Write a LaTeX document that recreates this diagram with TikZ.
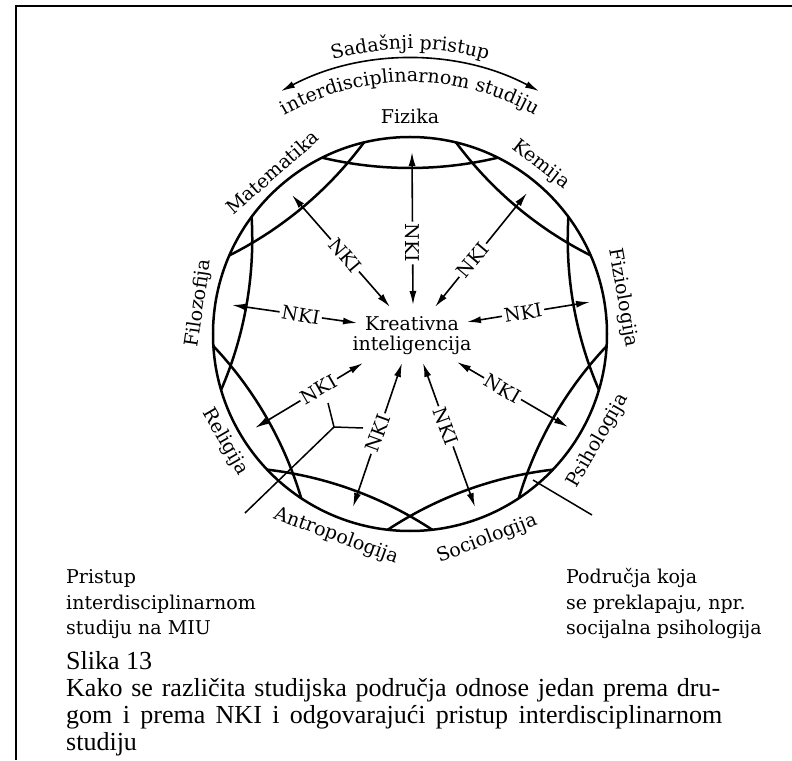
\documentclass[tikz,border=0pt]{standalone}
\usepackage{fontspec}
\setmainfont{DejaVu Serif}
\newfontfamily\capfamily{Liberation Serif}
\usetikzlibrary{arrows.meta,decorations.text,calc}
\newcommand\dlabfont{\fontsize{19}{22}\selectfont}
\newcommand\capfont{\capfamily\fontsize{26}{26}\selectfont}
\begin{document}
\begin{tikzpicture}[x=1pt,y=1pt,
  lens/.style={line width=2.5pt},
  nkiarrow/.style={line width=1.6pt,-{Latex[length=14pt,width=7pt]}},
  nki/.style={font=\dlabfont,inner sep=2pt},
  flab/.style={font=\dlabfont,inner sep=0pt},
  callout/.style={line width=1.5pt},
  anno/.style={font=\dlabfont,anchor=base west,inner sep=0pt},
  captxt/.style={font=\capfont,anchor=base west,inner sep=0pt},
  frame/.style={line width=2pt}]
\useasboundingbox (-410,-426) rectangle (382,334);
% frame
\draw[frame] (-394,-426) -- (-394,328) -- (382,328);
% outer circle and inner lens arcs
\draw[lens] (0,0) circle[radius=197];
\foreach \t in {90,130,...,410}{
  \pgfmathsetmacro\sa{\t+166.63}
  \pgfmathsetmacro\ea{\t+193.37}
  \draw[lens] (\t:546) ++(\sa:380) arc[start angle=\sa,end angle=\ea,radius=380];
}
% top arc with arrows
\draw[line width=1.6pt,{Latex[length=14pt,width=7pt]}-{Latex[length=14pt,width=7pt]}] (118:275) arc[start angle=118,end angle=62,radius=275];
\path[decorate,decoration={text along path,text={|\dlabfont|Sadašnji pristup},text align=center}] (120:285) arc[start angle=120,end angle=60,radius=285];
\path[decorate,decoration={text along path,text={|\dlabfont|interdisciplinarnom studiju},text align=center}] (125:252) arc[start angle=125,end angle=55,radius=252];
% field labels
\node[flab] (fiz) at (0,218) {Fizika};
\node[flab,rotate=-38] (kem) at (131,169) {Kemija};
\node[flab,rotate=-80] (fzl) at (213,36) {Fiziologija};
\node[flab,rotate=60] (psi) at (188,-107) {Psihologija};
\node[flab,rotate=21] (soc) at (77,-205) {Sociologija};
\node[flab,rotate=-20] (ant) at (-74,-202) {Antropologija};
\node[flab,rotate=-60] (rel) at (-185,-108) {Religija};
\node[flab,rotate=81.6] (fil) at (-211,31) {Filozofija};
\node[flab,rotate=41] (mat) at (-138,162) {Matematika};
% centre
\node[font=\dlabfont,align=center,inner sep=0pt] (ki) at (2,-2) {Kreativna\\[-2pt]inteligencija};
% NKI arrows
\coordinate (o1) at (2,182);   \coordinate (i1) at (3,29);
\coordinate (o2) at (117,141); \coordinate (i2) at (25,27);
\coordinate (o3) at (180,32);  \coordinate (i3) at (57,12);
\coordinate (o4) at (158,-93); \coordinate (i4) at (47,-28);
\coordinate (o5) at (65,-173); \coordinate (i5) at (13,-29);
\coordinate (o6) at (-57,-173);\coordinate (i6) at (-8,-29);
\coordinate (o7) at (-155,-94);\coordinate (i7) at (-47,-29);
\coordinate (o8) at (-178,29); \coordinate (i8) at (-53,11);
\coordinate (o9) at (-118,139);\coordinate (i9) at (-20,27);
\node[nki,rotate=-90] (n1) at ($(i1)!0.405!(o1)$) {NKI};
\node[nki,rotate=50]  (n2) at ($(i2)!0.41!(o2)$) {NKI};
\node[nki,rotate=10]  (n3) at ($(i3)!0.456!(o3)$) {NKI};
\node[nki,rotate=-30] (n4) at ($(i4)!0.41!(o4)$) {NKI};
\node[nki,rotate=-70] (n5) at ($(i5)!0.44!(o5)$) {NKI};
\node[nki,rotate=70]  (n6) at ($(i6)!0.49!(o6)$) {NKI};
\node[nki,rotate=30]  (n7) at ($(i7)!0.41!(o7)$) {NKI};
\node[nki,rotate=-10] (n8) at ($(i8)!0.45!(o8)$) {NKI};
\node[nki,rotate=-50] (n9) at ($(i9)!0.46!(o9)$) {NKI};
\foreach \k in {1,...,9}{
  \draw[nkiarrow] (n\k) -- (o\k);
  \draw[nkiarrow] (n\k) -- (i\k);
}
% callout lines
\coordinate (fa) at (-165,-179); \coordinate (fb) at (-76,-93);
\coordinate (fc) at (-82,-69);   \coordinate (fd) at (-47,-94);
\draw[callout] (fa) -- (fb) -- (fc);
\draw[callout] (fb) -- (fd);
\coordinate (ra) at (123,-146); \coordinate (rb) at (182,-181);
\draw[callout] (ra) -- (rb);
% annotations
\node[anno] (p1) at (-344,-249) {Pristup};
\node[anno] (p2) at (-344,-275) {interdisciplinarnom};
\node[anno] (p3) at (-344,-300) {studiju na MIU};
\node[anno] (q1) at (156,-249) {Područja koja};
\node[anno] (q2) at (156,-275) {se preklapaju, npr.};
\node[anno] (q3) at (156,-300) {socijalna psihologija};
% caption
\node[captxt] (c0) at (-344,-335) {Slika 13};
\node[captxt] (c1) at (-344,-362) {\makebox[654pt][s]{Kako se različita studijska područja odnose jedan prema dru-}};
\node[captxt] (c2) at (-344,-389) {\makebox[656pt][s]{gom i prema NKI i odgovarajući pristup interdisciplinarnom}};
\node[captxt] (c3) at (-344,-416) {studiju};
\end{tikzpicture}
\end{document}
